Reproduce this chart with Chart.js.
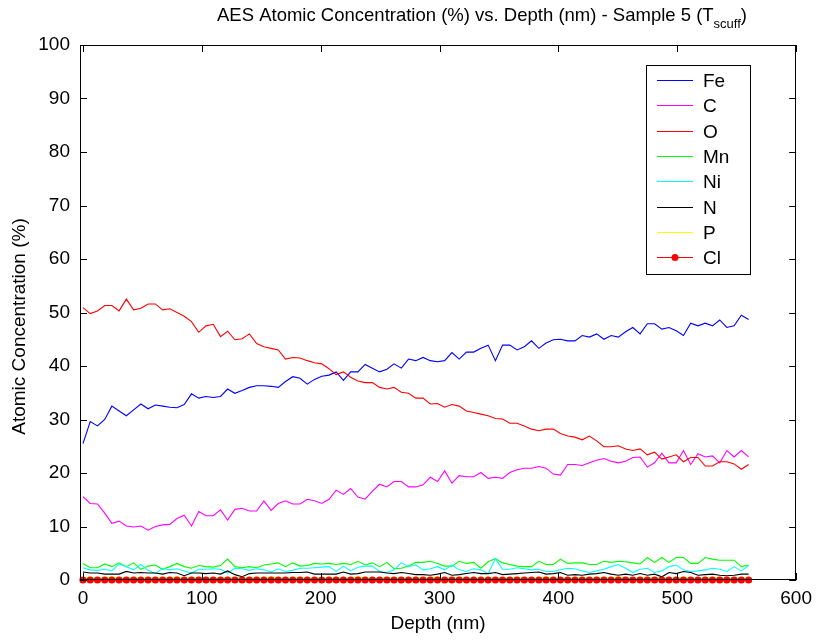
<!DOCTYPE html>
<html>
<head>
<meta charset="utf-8">
<title>AES Atomic Concentration vs. Depth</title>
<script src="https://cdn.jsdelivr.net/npm/chart.js@4.4.1/dist/chart.umd.min.js"></script>
<style>
  html, body { margin: 0; padding: 0; background: #fff; }
  #wrap { width: 819px; height: 640px; }
</style>
</head>
<body>
<div id="wrap"><canvas id="aesChart" width="819" height="640"></canvas></div>
<script>
// ===== DATA =====
const depth = [
  0, 6.1, 12.2, 18.3, 24.3, 30.4, 36.5, 42.6, 48.7, 54.8,
  60.9, 67.0, 73.0, 79.1, 85.2, 91.3, 97.4, 103.5, 109.6, 115.7,
  121.7, 127.8, 133.9, 140.0, 146.1, 152.2, 158.3, 164.3, 170.4, 176.5,
  182.6, 188.7, 194.8, 200.9, 207.0, 213.0, 219.1, 225.2, 231.3, 237.4,
  243.5, 249.6, 255.7, 261.7, 267.8, 273.9, 280.0, 286.1, 292.2, 298.3,
  304.3, 310.4, 316.5, 322.6, 328.7, 334.8, 340.9, 347.0, 353.0, 359.1,
  365.2, 371.3, 377.4, 383.5, 389.6, 395.7, 401.7, 407.8, 413.9, 420.0,
  426.1, 432.2, 438.3, 444.3, 450.4, 456.5, 462.6, 468.7, 474.8, 480.9,
  487.0, 493.0, 499.1, 505.2, 511.3, 517.4, 523.5, 529.6, 535.7, 541.7,
  547.8, 553.9, 560.0
];

const fe = [
  25.5, 29.6, 28.8, 30.0, 32.5, 31.6, 30.7, 31.8, 32.9, 32.0,
  32.7, 32.5, 32.3, 32.2, 32.8, 34.8, 34.0, 34.3, 34.1, 34.3,
  35.7, 34.9, 35.4, 36.0, 36.3, 36.3, 36.2, 36.0, 37.1, 38.0,
  37.7, 36.6, 37.5, 38.1, 38.3, 38.9, 37.3, 38.9, 38.9, 40.3,
  39.6, 38.9, 39.4, 40.4, 39.6, 41.3, 41.0, 41.6, 41.0, 40.8,
  41.0, 42.5, 41.3, 42.6, 42.6, 43.3, 43.9, 41.0, 43.9, 43.9,
  43.0, 43.6, 44.7, 43.3, 44.3, 44.9, 45.0, 44.7, 44.7, 45.7,
  45.4, 46.0, 45.0, 45.7, 45.4, 46.4, 47.2, 46.0, 47.9, 47.9,
  46.9, 47.2, 46.6, 45.7, 48.0, 47.5, 48.0, 47.5, 48.6, 47.2,
  47.5, 49.5, 48.7
];

const carbon = [
  15.6, 14.3, 14.2, 12.5, 10.6, 11.0, 10.1, 9.9, 10.1, 9.3,
  10.0, 10.3, 10.4, 11.5, 12.1, 10.1, 12.8, 12.0, 12.0, 13.1,
  11.2, 13.2, 13.4, 12.9, 12.9, 14.8, 13.0, 14.3, 14.8, 14.2,
  14.2, 15.1, 14.8, 14.3, 15.1, 16.8, 16.0, 17.1, 15.5, 15.1,
  16.6, 17.9, 17.4, 18.4, 18.4, 17.4, 17.4, 17.8, 19.2, 18.4,
  20.4, 18.1, 19.5, 19.3, 19.3, 20.1, 19.0, 19.2, 19.0, 20.1,
  20.6, 20.9, 20.9, 21.2, 20.9, 19.8, 19.6, 21.6, 21.6, 21.4,
  21.9, 22.4, 22.7, 22.2, 21.9, 22.2, 22.9, 23.0, 21.1, 21.9,
  23.7, 21.9, 21.9, 24.2, 21.6, 23.6, 23.0, 23.2, 21.9, 24.2,
  23.0, 24.2, 23.0
];

const oxygen = [
  50.9, 49.8, 50.3, 51.3, 51.3, 50.3, 52.5, 50.5, 50.8, 51.6,
  51.6, 50.5, 50.7, 50.0, 49.3, 48.3, 46.3, 47.5, 47.8, 45.5,
  46.5, 44.9, 45.1, 46.0, 44.2, 43.6, 43.3, 43.0, 41.3, 41.6,
  41.5, 41.0, 40.6, 40.4, 39.5, 38.4, 38.9, 37.9, 37.2, 36.9,
  36.9, 36.0, 35.7, 36.0, 35.1, 34.9, 34.0, 34.0, 32.9, 33.0,
  32.3, 32.8, 32.5, 31.6, 31.3, 31.0, 30.7, 30.2, 30.1, 29.3,
  29.3, 28.8, 28.2, 27.9, 28.2, 28.2, 27.4, 26.9, 26.7, 26.2,
  26.9, 26.0, 24.9, 24.9, 25.1, 24.5, 24.2, 24.5, 23.4, 23.9,
  22.6, 23.0, 23.4, 22.1, 22.9, 22.9, 21.3, 21.3, 22.1, 22.1,
  21.7, 20.7, 21.6
];

const manganese = [
  3.1, 2.3, 2.3, 3.0, 2.5, 3.2, 2.5, 3.2, 2.0, 2.6,
  2.8, 2.0, 2.5, 3.1, 2.5, 2.2, 2.7, 2.5, 2.4, 2.7,
  3.9, 2.5, 2.3, 2.5, 2.3, 2.8, 3.0, 3.2, 2.5, 3.2,
  2.6, 2.7, 3.1, 3.0, 3.1, 2.9, 3.1, 2.9, 3.5, 2.8,
  3.2, 2.5, 3.3, 2.1, 2.2, 2.6, 3.3, 3.3, 3.5, 3.1,
  2.6, 2.6, 3.5, 3.1, 3.3, 2.2, 3.4, 4.0, 3.2, 2.9,
  2.6, 2.5, 2.5, 3.5, 2.9, 2.9, 3.9, 3.1, 3.2, 3.2,
  2.9, 2.9, 3.5, 3.3, 3.5, 3.4, 3.2, 3.0, 4.2, 3.3,
  4.2, 3.3, 4.2, 4.2, 3.1, 3.1, 4.2, 3.9, 3.7, 3.7,
  3.7, 2.5, 2.8
];

const nickel = [
  2.3, 1.9, 1.8, 2.0, 1.7, 3.0, 2.5, 1.9, 2.9, 1.8,
  1.2, 2.2, 1.9, 2.1, 1.7, 1.3, 2.0, 2.0, 2.1, 2.0,
  1.3, 2.2, 2.1, 1.8, 2.1, 1.9, 1.5, 2.1, 1.6, 1.8,
  2.2, 2.2, 2.3, 2.4, 2.5, 1.6, 2.6, 1.7, 2.4, 2.6,
  2.6, 1.6, 1.4, 1.9, 3.2, 2.5, 2.8, 1.9, 2.1, 2.5,
  1.9, 2.8, 1.9, 1.6, 2.1, 1.9, 1.2, 4.0, 2.0, 2.0,
  2.3, 2.1, 1.9, 2.0, 1.6, 1.6, 1.9, 2.2, 2.1, 1.7,
  1.4, 1.7, 2.0, 2.5, 2.9, 2.2, 1.4, 2.0, 2.2, 1.4,
  1.7, 2.5, 2.8, 1.9, 1.6, 1.7, 1.9, 2.2, 2.0, 1.6,
  2.5, 1.7, 2.7
];

const nitrogen = [
  1.5, 1.3, 1.3, 1.1, 1.1, 1.1, 1.6, 1.3, 1.4, 1.3,
  1.3, 1.1, 1.4, 1.3, 0.8, 1.3, 1.3, 1.2, 1.3, 1.1,
  1.7, 1.0, 0.6, 1.2, 1.3, 1.3, 1.3, 1.3, 1.3, 1.4,
  1.4, 1.5, 1.1, 1.1, 1.1, 1.1, 1.5, 1.1, 1.2, 1.5,
  1.5, 1.5, 1.3, 1.2, 1.4, 1.2, 1.0, 1.0, 0.9, 1.1,
  1.4, 0.9, 1.0, 1.2, 1.4, 1.2, 1.2, 1.4, 1.0, 1.1,
  1.2, 1.3, 1.4, 1.5, 1.1, 1.2, 1.4, 0.9, 1.0, 0.9,
  1.1, 1.2, 1.4, 1.1, 0.9, 1.1, 0.9, 1.2, 0.9, 1.1,
  0.6, 1.4, 1.2, 1.6, 1.4, 0.9, 1.0, 1.1, 0.9, 0.8,
  0.9, 1.1, 1.1
];

const phosphorus = [
  0.4, 0.5, 0.3, 0.4, 0.6, 0.4, 0.3, 0.5, 0.4, 0.4,
  0.3, 0.5, 0.4, 0.6, 0.3, 0.4, 0.5, 0.4, 0.3, 0.4,
  0.5, 0.4, 0.4, 0.3, 0.5, 0.4, 0.6, 0.4, 0.3, 0.4,
  0.5, 0.4, 0.3, 0.4, 0.4, 0.5, 0.3, 0.4, 0.6, 0.4,
  0.3, 0.4, 0.5, 0.4, 0.4, 0.3, 0.5, 0.4, 0.4, 0.6,
  0.3, 0.4, 0.5, 0.4, 0.3, 0.4, 0.4, 0.5, 0.3, 0.4,
  0.5, 0.4, 0.3, 0.4, 0.6, 0.4, 0.4, 0.3, 0.5, 0.4,
  0.4, 0.3, 0.5, 0.4, 0.6, 0.4, 0.3, 0.4, 0.5, 0.4,
  0.4, 0.3, 0.4, 0.5, 0.4, 0.3, 0.4, 0.5, 0.4, 0.3,
  0.4, 0.4, 0.5
];

const chlorine = [
  0, 0, 0, 0, 0, 0, 0, 0, 0, 0,
  0, 0, 0, 0, 0, 0, 0, 0, 0, 0,
  0, 0, 0, 0, 0, 0, 0, 0, 0, 0,
  0, 0, 0, 0, 0, 0, 0, 0, 0, 0,
  0, 0, 0, 0, 0, 0, 0, 0, 0, 0,
  0, 0, 0, 0, 0, 0, 0, 0, 0, 0,
  0, 0, 0, 0, 0, 0, 0, 0, 0, 0,
  0, 0, 0, 0, 0, 0, 0, 0, 0, 0,
  0, 0, 0, 0, 0, 0, 0, 0, 0, 0,
  0, 0, 0
];

const seriesNames = ["Fe", "C", "O", "Mn", "Ni", "N", "P", "Cl"];
const seriesColors = ["#0000ff", "#ff00ff", "#ff0000", "#00ff00", "#00ffff", "#000000", "#ffff00", "#ff0000"];
const seriesValues = [fe, carbon, oxygen, manganese, nickel, nitrogen, phosphorus, chlorine];

const xTickVals = [0, 100, 200, 300, 400, 500, 600];
const yTickVals = [0, 10, 20, 30, 40, 50, 60, 70, 80, 90, 100];

const FONT = '"Liberation Sans", Arial, Helvetica, sans-serif';

// ===== HELPERS =====
function toPoints(vals) {
  return vals.map((v, i) => ({ x: depth[i], y: v }));
}

// ===== PLUGIN: frame, inward ticks, legend, titles =====
const matlabDecor = {
  id: "matlabDecor",
  afterDatasetsDraw(chart) {
    const { ctx, chartArea: a, scales } = chart;
    const xs = scales.x, ys = scales.y;
    ctx.save();
    ctx.strokeStyle = "#000";
    ctx.lineWidth = 1;

    // inward tick marks on all four sides
    ctx.beginPath();
    xTickVals.forEach(v => {
      const px = Math.round(xs.getPixelForValue(v)) + 0.5;
      ctx.moveTo(px, a.bottom); ctx.lineTo(px, a.bottom - 7);
      ctx.moveTo(px, a.top); ctx.lineTo(px, a.top + 7);
    });
    yTickVals.forEach(v => {
      const py = Math.round(ys.getPixelForValue(v)) + 0.5;
      ctx.moveTo(a.left, py); ctx.lineTo(a.left + 7, py);
      ctx.moveTo(a.right, py); ctx.lineTo(a.right - 7, py);
    });
    ctx.stroke();

    // axes box
    ctx.strokeRect(Math.round(a.left) + 0.5, Math.round(a.top) + 0.5,
                   Math.round(a.width) - 1, Math.round(a.height) - 1);

    // legend box (top right, inside axes)
    const lx = 646, ly = 65, lw = 104, lh = 209;
    ctx.fillStyle = "#fff";
    ctx.fillRect(lx, ly, lw, lh);
    ctx.strokeRect(lx + 0.5, ly + 0.5, lw, lh);
    ctx.font = "19px " + FONT;
    ctx.textBaseline = "middle";
    ctx.textAlign = "left";
    chart.data.datasets.forEach((ds, k) => {
      const ry = Math.round(80 + k * 25.3) + 0.5;
      ctx.strokeStyle = ds.borderColor;
      ctx.beginPath();
      ctx.moveTo(657, ry); ctx.lineTo(693, ry);
      ctx.stroke();
      if (ds.pointRadius > 0) {
        ctx.fillStyle = ds.backgroundColor;
        ctx.beginPath();
        ctx.arc(675, ry, 3.5, 0, Math.PI * 2);
        ctx.fill();
      }
      ctx.fillStyle = "#000";
      ctx.fillText(ds.label, 703, ry + 1);
    });
    ctx.restore();
  },
  afterDraw(chart) {
    const { ctx, chartArea: a } = chart;
    ctx.save();
    ctx.fillStyle = "#000";

    // y axis label, rotated
    ctx.font = "19px " + FONT;
    ctx.textAlign = "center";
    ctx.textBaseline = "middle";
    ctx.translate(20, (a.top + a.bottom) / 2 + 14);
    ctx.rotate(-Math.PI / 2);
    ctx.fillText("Atomic Concentration (%)", 0, 0);
    ctx.setTransform(1, 0, 0, 1, 0, 0);

    // title with subscript
    const main = "AES Atomic Concentration (%) vs. Depth (nm) - Sample 5 (T";
    const sub = "scuff";
    const tail = ")";
    ctx.textBaseline = "alphabetic";
    ctx.textAlign = "left";
    const bigFont = "18.5px " + FONT, smallFont = "13px " + FONT;
    ctx.font = bigFont;
    const w1 = ctx.measureText(main).width, w3 = ctx.measureText(tail).width;
    ctx.font = smallFont;
    const w2 = ctx.measureText(sub).width;
    const x0 = 482 - (w1 + w2 + w3) / 2;
    ctx.font = bigFont;
    ctx.fillText(main, x0, 21);
    ctx.font = smallFont;
    ctx.fillText(sub, x0 + w1, 28);
    ctx.font = bigFont;
    ctx.fillText(tail, x0 + w1 + w2, 21);
    ctx.restore();
  }
};

// ===== CHART =====
Chart.defaults.font.family = FONT;
Chart.defaults.color = "#000";

const ctx = document.getElementById("aesChart").getContext("2d");
const chart = new Chart(ctx, {
  type: "line",
  data: {
    datasets: seriesNames.map((name, k) => ({
      label: name,
      data: toPoints(seriesValues[k]),
      borderColor: seriesColors[k],
      backgroundColor: seriesColors[k],
      borderWidth: 1.1,
      pointRadius: name === "Cl" ? 3.6 : 0,
      pointBorderWidth: 0,
      pointHoverRadius: 0,
      tension: 0,
      fill: false,
      clip: false,
      order: seriesNames.length - k
    }))
  },
  options: {
    responsive: false,
    animation: false,
    events: [],
    layout: { padding: { top: 45, right: 19, bottom: 0, left: 0 } },
    plugins: {
      legend: { display: false },
      title: { display: false },
      tooltip: { enabled: false }
    },
    scales: {
      x: {
        type: "linear",
        min: -2.5,
        max: 600,
        afterBuildTicks: s => { s.ticks = xTickVals.map(v => ({ value: v })); },
        afterFit: s => { s.height = 60; },
        grid: { display: false, drawTicks: false },
        border: { display: false },
        ticks: { font: { size: 19 }, padding: 7, maxRotation: 0, color: "#000" },
        title: { display: true, text: "Depth (nm)", font: { size: 19 }, padding: { bottom: 5, top: 0 }, color: "#000" }
      },
      y: {
        type: "linear",
        min: 0,
        max: 100,
        afterBuildTicks: s => { s.ticks = yTickVals.map(v => ({ value: v })); },
        afterFit: s => { s.width = 80; },
        grid: { display: false, drawTicks: false },
        border: { display: false },
        ticks: { font: { size: 19 }, padding: 10, color: "#000" }
      }
    }
  },
  plugins: [matlabDecor]
});
</script>
</body>
</html>
